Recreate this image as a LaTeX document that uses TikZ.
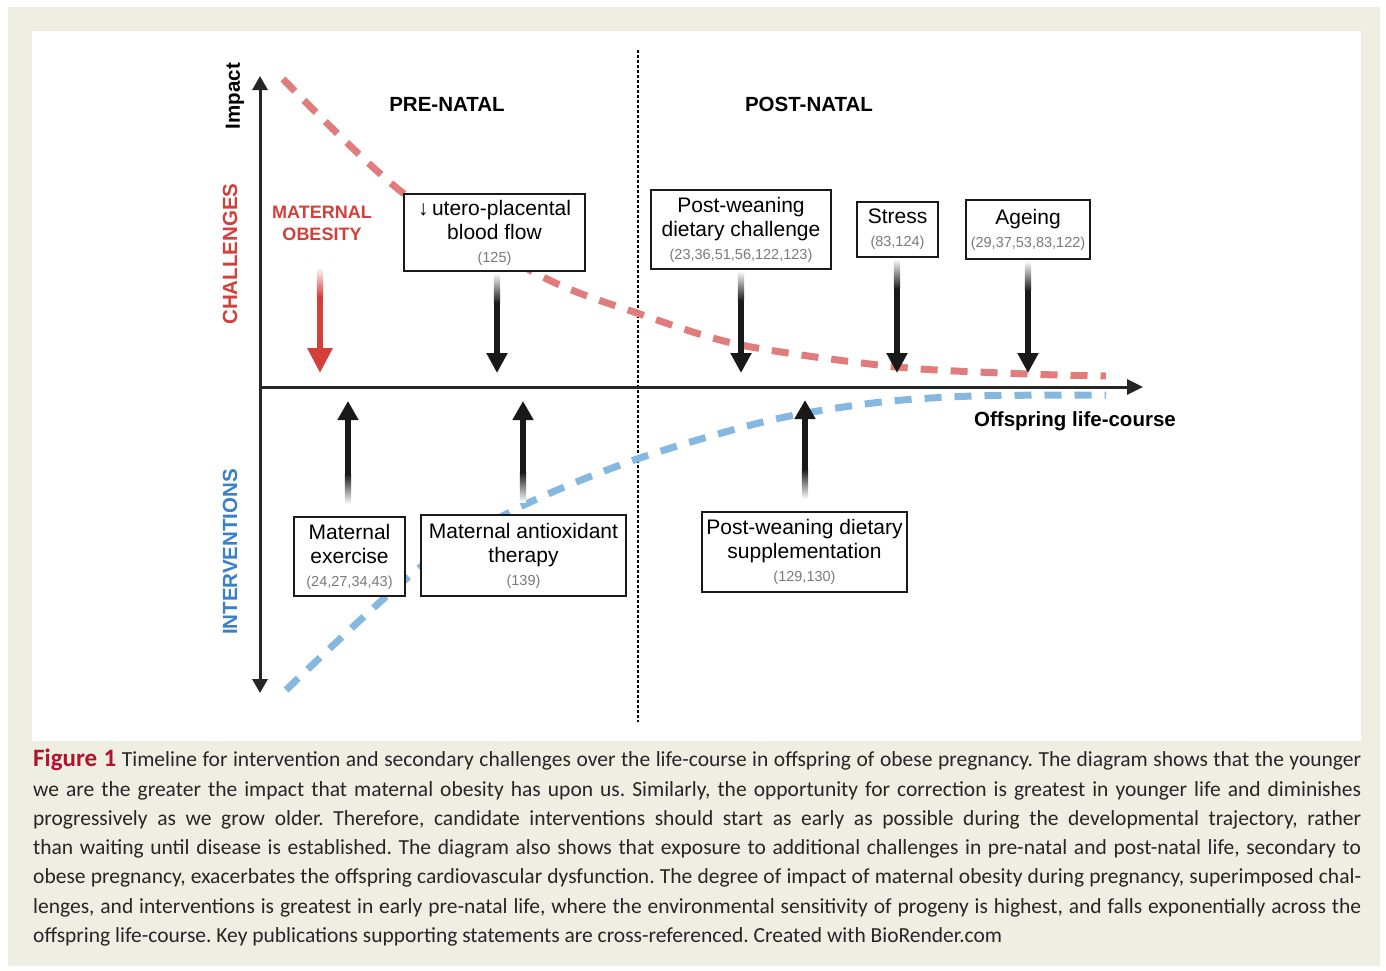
\documentclass[tikz,border=0pt]{standalone}
\usepackage{fontspec}
\setmainfont{Liberation Sans}
\newfontfamily\capfamily{Carlito}
\usetikzlibrary{calc}
\usetikzlibrary{arrows.meta}

\definecolor{paper}{HTML}{EEEEE2}
\definecolor{chalred}{HTML}{D43F3B}
\definecolor{curvered}{HTML}{E07C7C}
\definecolor{intblue}{HTML}{3A80C8}
\definecolor{curveblue}{HTML}{84B8E0}
\definecolor{refgrey}{HTML}{7A7A7A}
\definecolor{figred}{HTML}{B3122E}

\newcommand\citeno{\fontsize{14.5}{16}\selectfont\color{refgrey}}
\newcommand\capline[1]{\hbox to 1328pt{#1}}

\begin{document}
\frenchspacing
\begin{tikzpicture}[x=1pt,y=-1pt,
  axis/.style={line width=3pt, black!85},
  phase/.style={font=\fontsize{20.5}{24}\selectfont\bfseries},
  sidelabel/.style={font=\fontsize{20.5}{24}\selectfont\bfseries, rotate=90},
  box/.style={draw=black!90, line width=1.8pt, fill=white, align=center, inner sep=0pt,
    font=\fontsize{21}{24}\selectfont},
  chalarrow/.style={line width=6pt, black!90, -{Triangle[width=20pt,length=20pt]}},
  intarrow/.style={line width=6pt, black!90, -{Triangle[width=20pt,length=19pt]}},
  trend/.style={line width=7pt, dash pattern=on 17pt off 13pt}]

% page and panel
\useasboundingbox (0,0) rectangle (1386,970);
\fill[white] (0,0) rectangle (1386,970);
\fill[paper] (8,7) rectangle (1380,966);
\fill[white] (32,31) rectangle (1361,741);

% axes
\coordinate (origin) at (260,387);
\coordinate (ytop) at (260,76);
\coordinate (ybot) at (260,693);
\coordinate (xend) at (1143,387);
\draw[dash pattern=on 2.5pt off 2.5pt, line width=1.8pt] (638,50) -- (638,722);

% trend curves
\draw[trend, curvered] plot[smooth] coordinates {(283,79) (403,193) (543,277) (637,313) (741,345) (897,367) (1028,374) (1106,376)};
\draw[trend, curveblue] plot[smooth] coordinates {(286,690) (418,569) (520,507) (637,459) (767,421) (873,403) (973,396) (1106,395)};

\draw[axis, {Triangle[width=15pt,length=14pt]}-{Triangle[width=15pt,length=14pt]}] (ybot) -- (ytop);
\draw[axis, -{Triangle[width=15pt,length=16pt]}] (origin) -- (xend);

% labels
\node[sidelabel] (impact) at (235,96) {Impact};
\node[sidelabel, chalred] (chal) at (230,254) {CHALLENGES};
\node[sidelabel, intblue] (inter) at (230,552) {INTERVENTIONS};
\node[phase] (pre) at (447,104) {PRE-NATAL};
\node[phase] (post) at (809,104) {POST-NATAL};
\node[phase] (course) at (1075,421) {Offspring life-course};
\node[chalred, align=center, font=\fontsize{18}{22}\selectfont\bfseries] (matob) at (322,223) {MATERNAL\\OBESITY};

% challenges
\node[box, minimum width=181pt, minimum height=77pt] (utero) at (494.5,232.5)
  {\char"2193\,utero-placental\\blood flow\\[-1pt]{\citeno (125)}};
\node[box, minimum width=180pt, minimum height=79pt] (pwchal) at (741,229.5)
  {Post-weaning\\dietary challenge\\[-1pt]{\citeno (23,36,51,56,122,123)}};
\node[box, minimum width=81pt, minimum height=55pt] (stress) at (897.5,229.5)
  {Stress\\[-1pt]{\citeno (83,124)}};
\node[box, minimum width=124pt, minimum height=59pt] (ageing) at (1028,229.5)
  {Ageing\\[-1pt]{\citeno (29,37,53,83,122)}};

% interventions
\node[box, minimum width=111pt, minimum height=79pt] (exercise) at (349.5,556.5)
  {Maternal\\exercise\\[-1pt]{\citeno (24,27,34,43)}};
\node[box, minimum width=205pt, minimum height=81pt] (antiox) at (523.5,555.5)
  {Maternal antioxidant\\therapy\\[-1pt]{\citeno (139)}};
\node[box, minimum width=205pt, minimum height=80pt] (pwsupp) at (804.5,552)
  {Post-weaning dietary\\supplementation\\[-1pt]{\citeno (129,130)}};

% arrow tips on the axis
\coordinate (c0) at (320,373);
\coordinate (c1) at (497,373);
\coordinate (c2) at (741,373);
\coordinate (c3) at (897,373);
\coordinate (c4) at (1028,373);
\coordinate (i1) at (348,401);
\coordinate (i2) at (523,401);
\coordinate (i3) at (805,400);

\draw[chalarrow, chalred, -{Triangle[width=24pt,length=25pt]}] (matob.south -| c0) ++(0,24) -- (c0);
\shade[top color=white, bottom color=chalred] ($(matob.south -| c0)+(-3.2,23)$) rectangle ++(6.4,30);

\foreach \src/\tip in {utero/c1, pwchal/c2, stress/c3, ageing/c4}{
  \draw[chalarrow] (\src.south -| \tip) ++(0,2) -- (\tip);
  \shade[top color=white, bottom color=black!90] ($(\src.south -| \tip)+(-3.2,1)$) rectangle ++(6.4,30);
}

\foreach \src/\tip in {exercise/i1, antiox/i2, pwsupp/i3}{
  \draw[intarrow] (\src.north -| \tip) ++(0,-13) -- (\tip);
  \shade[bottom color=white, top color=black!90] ($(\src.north -| \tip)+(-3.2,-12)$) rectangle ++(6.4,-30);
}

% caption
\node[anchor=north west, inner sep=0pt, font=\capfamily\fontsize{21.5}{29.3}\selectfont, text=black!85] (caption) at (33,749) {\vbox{%
\capline{{\bfseries\fontsize{25}{29.3}\selectfont\color{figred}Figure 1} Timeline for intervention and secondary challenges over the life-course in offspring of obese pregnancy. The diagram shows that the younger}
\capline{we are the greater the impact that maternal obesity has upon us. Similarly, the opportunity for correction is greatest in younger life and diminishes}
\capline{progressively as we grow older. Therefore, candidate interventions should start as early as possible during the developmental trajectory, rather}
\capline{than waiting until disease is established. The diagram also shows that exposure to additional challenges in pre-natal and post-natal life, secondary to}
\capline{obese pregnancy, exacerbates the offspring cardiovascular dysfunction. The degree of impact of maternal obesity during pregnancy, superimposed chal-}
\capline{lenges, and interventions is greatest in early pre-natal life, where the environmental sensitivity of progeny is highest, and falls exponentially across the}
\hbox{offspring life-course. Key publications supporting statements are cross-referenced. Created with BioRender.com}}};

\end{tikzpicture}
\end{document}
